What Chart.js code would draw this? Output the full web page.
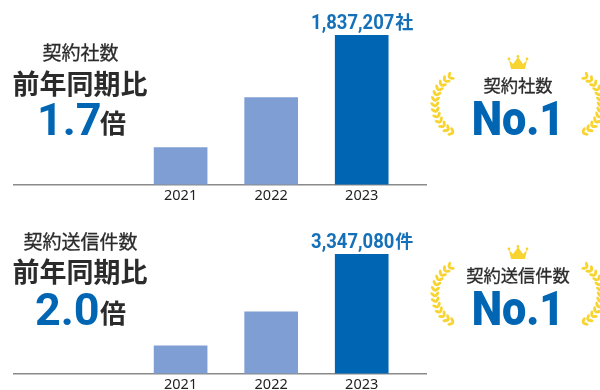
<!DOCTYPE html>
<html lang="ja">
<head>
<meta charset="utf-8">
<script src="https://cdn.jsdelivr.net/npm/chart.js@4"></script>
<style>
  html, body { margin: 0; padding: 0; background: #fff; }
  #page { position: relative; width: 600px; height: 390px; overflow: hidden; font-family: "Noto Sans CJK JP", sans-serif; color: #2b2b2b; }
  canvas, svg { position: absolute; left: 0; }
  .t { position: absolute; white-space: nowrap; text-align: center; line-height: 1; }
  .head { left: 0; width: 161px; font-size: 19px; font-weight: 400; -webkit-text-stroke: 0.3px #2b2b2b; }
  .yoy { left: 0; width: 160px; font-size: 27px; font-weight: 700; }
  .rate { left: 36px; font-family: Roboto, sans-serif; font-size: 45px; font-weight: 700; color: #0066b3; }
  .bai { left: 100px; font-size: 26px; font-weight: 700; }
  .badge { left: 418px; width: 200px; font-size: 17.3px; font-weight: 400; -webkit-text-stroke: 0.3px #2b2b2b; }
  .no1 { left: 418px; width: 200px; font-family: Roboto, sans-serif; font-size: 48px; font-weight: 900; color: #0066b3; transform: scaleX(0.9); }
</style>
</head>
<body>
<div id="page">
  <canvas id="chartCompanies" width="600" height="208" style="top:0"></canvas>
  <canvas id="chartSends" width="600" height="202" style="top:195px"></canvas>
</div>
<script>
const years = [2021, 2022, 2023];
const companies = [456000, 1070000, 1837207];
const sends = [780000, 1730000, 3347080];
const barColors = ['#7f9ed3', '#7f9ed3', '#0066b3'];

const page = document.getElementById('page');

function addText(cls, text, top, left) {
  const el = document.createElement('div');
  el.className = 't ' + cls;
  el.textContent = text;
  el.style.top = top + 'px';
  if (left !== undefined) el.style.left = left + 'px';
  page.appendChild(el);
}

// value above the last bar, drawn from the data
const lastBarLabel = {
  id: 'lastBarLabel',
  afterDatasetsDraw(chart, args, opts) {
    const { ctx } = chart;
    const i = chart.data.datasets[0].data.length - 1;
    const bar = chart.getDatasetMeta(0).data[i];
    const text = chart.data.datasets[0].data[i].y.toLocaleString('en-US');
    const squeeze = 0.9;
    const baseline = bar.y - 6.5;
    ctx.save();
    ctx.fillStyle = '#1470b8';
    ctx.textAlign = 'left';
    ctx.textBaseline = 'alphabetic';
    ctx.font = '700 20.5px Roboto, sans-serif';
    const numW = ctx.measureText(text).width * squeeze;
    const startX = bar.x - (numW + 18) / 2;
    ctx.save();
    ctx.translate(startX, baseline);
    ctx.scale(squeeze, 1);
    ctx.fillText(text, 0, 0);
    ctx.restore();
    ctx.font = '700 18px "Noto Sans CJK JP", sans-serif';
    ctx.fillText(opts.suffix, startX + numW + 1, baseline);
    ctx.restore();
  }
};

function drawChart(id, values, suffix, topPadding) {
  new Chart(document.getElementById(id), {
    type: 'bar',
    data: {
      datasets: [{
        data: years.map((y, i) => ({ x: y, y: values[i] })),
        backgroundColor: barColors,
        barThickness: 53
      }]
    },
    plugins: [lastBarLabel],
    options: {
      responsive: false,
      animation: false,
      layout: { padding: { left: 14, right: 174, top: topPadding, bottom: 0 } },
      plugins: {
        legend: { display: false },
        tooltip: { enabled: false },
        lastBarLabel: { suffix }
      },
      scales: {
        x: {
          type: 'linear',
          offset: false,
          bounds: 'data',
          min: 2019.16,
          max: 2023.71,
          grid: { display: false, drawTicks: false },
          border: { color: '#8a8a8a', width: 1.5 },
          afterBuildTicks(axis) { axis.ticks = years.map(y => ({ value: y })); },
          ticks: {
            autoSkip: false,
            maxRotation: 0,
            padding: 3,
            color: '#222',
            font: { family: '"Noto Sans", sans-serif', size: 14.5 },
            callback: v => String(v)
          }
        },
        y: { display: false, min: 0, max: values[values.length - 1] }
      }
    }
  });
}

// laurel and crown of the ranking badge
function badgeSvg(offset) {
  const gold = '#f8d431';
  const cx = 467, cy = 104, r = 32;
  let leaves = '';
  for (let a = 125; a <= 252; a += 10) {
    const rad = a * Math.PI / 180;
    const x = cx + r * Math.cos(rad);
    const y = cy - r * Math.sin(rad);
    [42, -42].forEach(tilt => {
      const dir = -a + 90 + tilt;
      const lx = x + 3 * Math.cos(dir * Math.PI / 180);
      const ly = y + 3 * Math.sin(dir * Math.PI / 180);
      leaves += `<ellipse cx="${lx.toFixed(1)}" cy="${ly.toFixed(1)}" rx="3.2" ry="1.5" transform="rotate(${dir} ${lx.toFixed(1)} ${ly.toFixed(1)})"/>`;
    });
  }
  const crown = 'M509 60 L513 64 L518 57 L523 64 L527 60 L525 69 L511 69 Z';
  const dots = [[509, 59], [518, 56.5], [527, 59]].map(p => `<circle cx="${p[0]}" cy="${p[1]}" r="1.4"/>`).join('');
  return `<svg width="600" height="195" style="top:${offset}px" fill="${gold}">` +
    `<g>${leaves}</g><g transform="translate(1036 0) scale(-1 1)">${leaves}</g>` +
    `<path d="${crown}"/>${dots}</svg>`;
}

page.insertAdjacentHTML('beforeend', badgeSvg(0) + badgeSvg(190));

addText('head', '契約社数', 41.5);
addText('yoy', '前年同期比', 69);
addText('rate', '1.7', 97, 37);
addText('bai', '倍', 109);
addText('badge', '契約社数', 76);
addText('no1', 'No.1', 94.5);

addText('head', '契約送信件数', 230.5);
addText('yoy', '前年同期比', 257);
addText('rate', '2.0', 287, 35);
addText('bai', '倍', 299);
addText('badge', '契約送信件数', 266);
addText('no1', 'No.1', 284.5);

drawChart('chartCompanies', companies, '社', 35);
drawChart('chartSends', sends, '件', 59);
</script>
</body>
</html>
